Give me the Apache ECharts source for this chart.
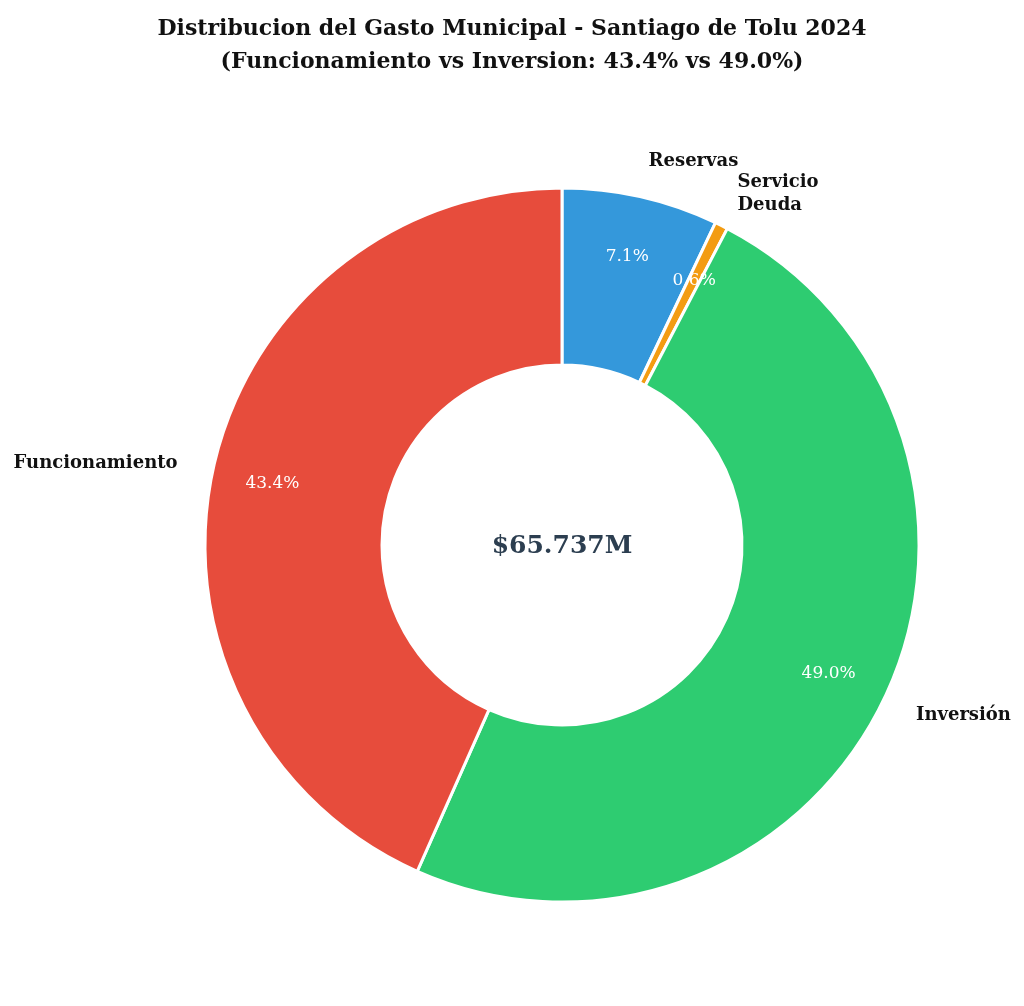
<!DOCTYPE html>
<html>
<head>
<meta charset="utf-8">
<script src="https://cdn.jsdelivr.net/npm/echarts@6/dist/echarts.min.js"></script>
<style>
  html, body { margin: 0; padding: 0; background: #fff; }
  #chart { width: 1024px; height: 1006px; }
</style>
</head>
<body>
<div id="chart"></div>
<script>
// millones de pesos, en el orden en que se dibujan (desde arriba, sentido horario)
const categories = ['Reservas', 'Servicio\nDeuda', 'Inversión', 'Funcionamiento']
const values = [4650, 387, 32200, 28500]
const colors = ['#3498db', '#f39c12', '#2ecc71', '#e74c3c']
const centerLabel = '$65.737M'

const font = 'DejaVu Serif'
const total = values.reduce((a, b) => a + b, 0)
const data = categories.map((name, i) => ({ name, value: values[i], itemStyle: { color: colors[i] } }))

const chart = echarts.init(document.getElementById('chart'))

const option = {
  animation: false,
  title: {
    text: 'Distribucion del Gasto Municipal - Santiago de Tolu 2024\n(Funcionamiento vs Inversion: 43.4% vs 49.0%)',
    left: 'center',
    top: 8,
    textStyle: { fontFamily: font, fontSize: 22, fontWeight: 'bold', color: '#111', lineHeight: 33, align: 'center' }
  },
  graphic: [{
    type: 'text',
    x: 562,
    y: 546,
    style: {
      text: centerLabel, fontFamily: font, fontSize: 25, fontWeight: 'bold', fill: '#2c3e50',
      align: 'center', verticalAlign: 'middle'
    }
  }],
  series: [
    {
      // sectores + etiquetas de nombre afuera
      type: 'pie',
      center: [562, 545],
      radius: [180, 357],
      startAngle: 90,
      clockwise: true,
      avoidLabelOverlap: false,
      silent: true,
      itemStyle: { borderColor: '#fff', borderWidth: 3 },
      label: {
        show: true,
        position: 'outside',
        fontFamily: font,
        fontSize: 18,
        fontWeight: 'bold',
        color: '#111',
        lineHeight: 23,
        distanceToLabelLine: 0,
        formatter: p => p.name
      },
      labelLayout: { hideOverlap: false },
      labelLine: { show: false, length: 36, length2: 0 },
      data: data
    },
    {
      // porcentajes dentro del anillo
      type: 'pie',
      center: [562, 545],
      radius: [229, 357],
      startAngle: 90,
      clockwise: true,
      silent: true,
      z: 3,
      avoidLabelOverlap: false,
      itemStyle: { color: 'rgba(0,0,0,0)' },
      label: {
        show: true,
        position: 'inside',
        fontFamily: font,
        fontSize: 17,
        color: '#fff',
        formatter: p => (p.value / total * 100).toFixed(1) + '%'
      },
      labelLayout: { hideOverlap: false },
      labelLine: { show: false },
      data: values.map((v, i) => ({ name: categories[i], value: v }))
    }
  ]
}

chart.setOption(option)
</script>
</body>
</html>
